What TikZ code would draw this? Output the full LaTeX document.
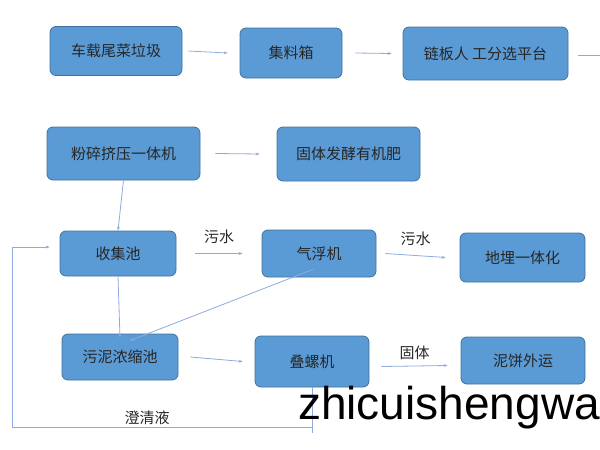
\documentclass[tikz,border=0pt]{standalone}
\usepackage{fontspec}
\setmainfont{Liberation Sans}
\newfontfamily\cjk{Noto Sans CJK SC}
\usetikzlibrary{arrows.meta}
\definecolor{boxfill}{HTML}{5B9BD5}
\definecolor{boxline}{HTML}{41719C}
\definecolor{flow}{HTML}{8FAADC}

\begin{document}
\begin{tikzpicture}[
    x=1pt, y=-1pt,
    box/.style={fill=boxfill, draw=boxline, rounded corners=6pt, line width=0.8pt,
        font=\cjk\fontsize{15}{15}\selectfont, text=black!85},
    arr/.style={flow, line width=0.8pt, -{Stealth[length=4pt,width=3pt]}},
    lin/.style={flow, line width=0.8pt},
    lab/.style={font=\cjk\fontsize{15}{15}\selectfont, text=black!85},
  ]
  \useasboundingbox (0,0) rectangle (600,450);
  \clip (0,0) rectangle (600,450);
  % boxes
  \node[box, minimum width=132pt, minimum height=49pt] (che) at (116,51) {车载尾菜垃圾};
  \node[box, minimum width=102pt, minimum height=50pt] (ji) at (291,53) {集料箱};
  \node[box, minimum width=165pt, minimum height=53pt] (lian) at (485.5,53.5) {链板人 工分选平台};
  \node[box, minimum width=153pt, minimum height=53pt] (fen) at (123.5,153.5) {粉碎挤压一体机};
  \node[box, minimum width=143pt, minimum height=54pt] (gu) at (348.5,154) {固体发酵有机肥};
  \node[box, minimum width=116pt, minimum height=45pt] (shou) at (118,253.5) {收集池};
  \node[box, minimum width=114pt, minimum height=47pt] (qi) at (319,253.5) {气浮机};
  \node[box, minimum width=125pt, minimum height=49pt] (di) at (522.5,257.5) {地埋一体化};
  \node[box, minimum width=116pt, minimum height=46pt] (wu) at (120,357) {污泥浓缩池};
  \node[box, minimum width=114pt, minimum height=51pt] (die) at (312,361.5) {叠螺机};
  \node[box, minimum width=124pt, minimum height=47pt] (ni) at (523,360.5) {泥饼外运};
  % connectors
  \draw[arr] ([xshift=6pt]che.east) -- ([xshift=-12pt]ji.west);
  \draw[arr] ([xshift=13pt]ji.east) -- ([xshift=-11pt]lian.west);
  \coordinate (out) at (600,55);
  \draw[lin] ([xshift=10pt]lian.east |- out) -- (out);
  \draw[arr] ([xshift=15pt]fen.east) -- ([xshift=-17pt]gu.west);
  \draw[arr] (fen.south) -- (shou.north);
  \draw[arr] ([xshift=19pt]shou.east) -- node[lab, above=6pt] {污水} ([xshift=-19pt]qi.west);
  \draw[arr] ([xshift=9pt]qi.east) -- node[lab, above=6pt] {污水} ([xshift=-14pt]di.west);
  \draw[arr] (shou.south) -- ([yshift=-4pt]wu.north);
  \draw[arr] ([xshift=-6pt,yshift=8pt]qi.south) -- ([xshift=10pt,yshift=-7pt]wu.north);
  \draw[arr] ([xshift=12pt]wu.east) -- ([xshift=-12pt]die.west);
  \draw[arr] ([xshift=12pt,yshift=-5pt]die.east) -- node[lab, above=3pt] {固体} ([xshift=-13pt,yshift=-5pt]ni.west);
  \coordinate (c1) at (312,427);
  \coordinate (c2) at (12,427);
  \coordinate (c3) at (12,247);
  \draw[lin] (die.south) -- (312,433);
  \draw[arr] (die.south) -- (c1) -- node[lab, pos=0.55, above=-1pt] {澄清液} (c2) -- (c3) -- ([xshift=-10pt]shou.west |- c3);
  % watermark
  \node[anchor=west, font=\fontsize{46}{46}\selectfont, inner sep=0pt] (wm) at (298,408) {zhicuishengwang};
\end{tikzpicture}
\end{document}
